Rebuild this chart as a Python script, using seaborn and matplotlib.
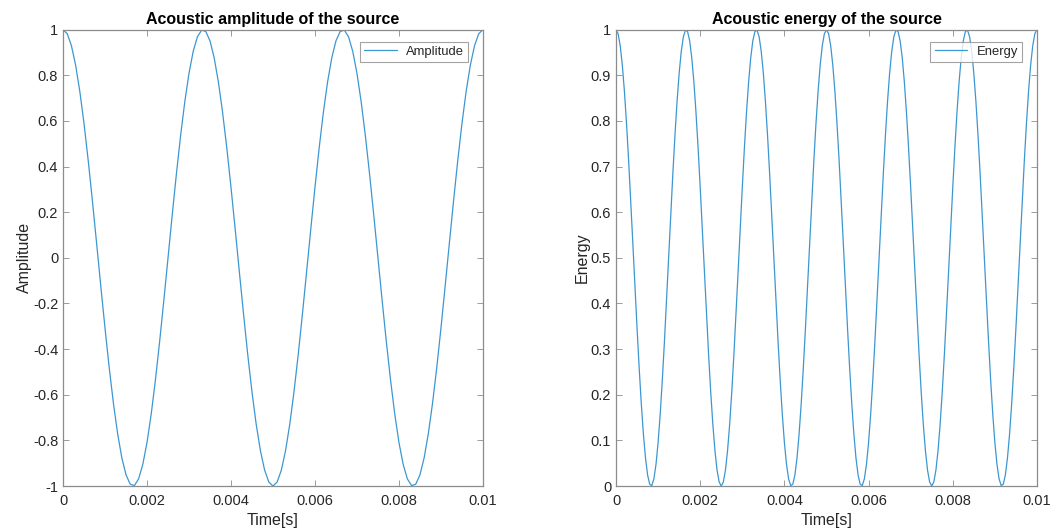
import numpy as np
import pandas as pd
import matplotlib
matplotlib.use("Agg")
import matplotlib.pyplot as plt
import seaborn as sns

# Amplitude: time samples (s), 0 .. 0.01 step 0.0001
time_amp = [round(i * 0.0001, 4) for i in range(101)]

amp_first = [1.0000, 0.9823, 0.9298, 0.8443, 0.7290, 0.5878, 0.4258, 0.2487, 0.0628, -0.1253,
             -0.3090, -0.4818, -0.6374, -0.7705, -0.8763, -0.9511, -0.9921, -0.9980, -0.9686, -0.9048,
             -0.8090, -0.6845, -0.5358, -0.3681, -0.1874, 0.0000, 0.1874, 0.3681, 0.5358, 0.6845,
             0.8090, 0.9048, 0.9686, 0.9980, 0.9921, 0.9511, 0.8763, 0.7705, 0.6374, 0.4818,
             0.3090, 0.1253, -0.0628, -0.2487, -0.4258, -0.5878, -0.7290, -0.8443, -0.9298, -0.9823,
             -1.0000]
amp_second = [-0.9823, -0.9298, -0.8443, -0.7290, -0.5878, -0.4258, -0.2487, -0.0628, 0.1253,
              0.3090, 0.4818, 0.6374, 0.7705, 0.8763, 0.9511, 0.9921, 0.9980, 0.9686, 0.9048,
              0.8090, 0.6845, 0.5358, 0.3681, 0.1874, 0.0000, -0.1874, -0.3681, -0.5358, -0.6845,
              -0.8090, -0.9048, -0.9686, -0.9980, -0.9921, -0.9511, -0.8763, -0.7705, -0.6374, -0.4818,
              -0.3090, -0.1253, 0.0628, 0.2487, 0.4258, 0.5878, 0.7290, 0.8443, 0.9298, 0.9823,
              1.0000]
amplitude = amp_first + amp_second

# Energy: time samples (s), 0 .. 0.01 step 0.00005
time_en = [round(i * 0.00005, 5) for i in range(201)]

en_block = [1.0000, 0.99115, 0.9649, 0.92215, 0.8645, 0.7939, 0.7129, 0.62435, 0.5314, 0.43735,
            0.3455, 0.2591, 0.1813, 0.11475, 0.06185, 0.02445, 0.00395, 0.0010, 0.0157, 0.0476,
            0.0955, 0.15775, 0.2321, 0.31595, 0.4063, 0.5000, 0.5937, 0.68405, 0.7679, 0.84225,
            0.9045, 0.9524, 0.9843, 0.9990, 0.99605, 0.97555, 0.93815, 0.88525, 0.8187, 0.7409,
            0.6545, 0.56265, 0.4686, 0.37565, 0.2871, 0.2061, 0.1355, 0.07785, 0.0351, 0.00885,
            0.0000, 0.00885, 0.0351, 0.07785, 0.1355, 0.2061, 0.2871, 0.37565, 0.4686, 0.56265,
            0.6545, 0.7409, 0.8187, 0.88525, 0.93815, 0.97555, 0.99605, 0.9990, 0.9843, 0.9524,
            0.9045, 0.84225, 0.7679, 0.68405, 0.5937, 0.5000, 0.4063, 0.31595, 0.2321, 0.15775,
            0.0955, 0.0476, 0.0157, 0.0010, 0.00395, 0.02445, 0.06185, 0.11475, 0.1813, 0.2591,
            0.3455, 0.43735, 0.5314, 0.62435, 0.7129, 0.7939, 0.8645, 0.92215, 0.9649, 0.99115]
energy = en_block + en_block + [1.0000]

x_ticks = [0, 0.002, 0.004, 0.006, 0.008, 0.01]
x_ticklabels = ["0", "0.002", "0.004", "0.006", "0.008", "0.01"]
amp_ticks = [-1, -0.8, -0.6, -0.4, -0.2, 0, 0.2, 0.4, 0.6, 0.8, 1]
amp_ticklabels = ["-1", "-0.8", "-0.6", "-0.4", "-0.2", "0", "0.2", "0.4", "0.6", "0.8", "1"]
en_ticks = [0, 0.1, 0.2, 0.3, 0.4, 0.5, 0.6, 0.7, 0.8, 0.9, 1]
en_ticklabels = ["0", "0.1", "0.2", "0.3", "0.4", "0.5", "0.6", "0.7", "0.8", "0.9", "1"]

sns.set_theme(style="white")
plt.rcParams["font.family"] = ["Liberation Sans", "DejaVu Sans"]

LINE = "#3C97D1"
AXC = "#262626"
SPINE = "#8C8C8C"

df_a = pd.DataFrame({"Time": time_amp, "Amplitude": amplitude})
df_e = pd.DataFrame({"Time": time_en, "Energy": energy})

fig = plt.figure(figsize=(10.63, 5.30), dpi=100)
ax1 = fig.add_axes([0.0593, 0.083, 0.395, 0.861])
ax2 = fig.add_axes([0.5795, 0.083, 0.396, 0.861])

def style(ax, yticks, ylabels, ylim, title, ylabel):
    ax.set_xlim(0, 0.01)
    ax.set_ylim(*ylim)
    ax.set_xticks(x_ticks)
    ax.set_xticklabels(x_ticklabels)
    ax.set_yticks(yticks)
    ax.set_yticklabels(ylabels)
    ax.tick_params(direction="in", length=4, width=0.6, color=SPINE, labelcolor=AXC,
                   labelsize=10.5, top=True, right=True, bottom=True, left=True,
                   labeltop=False, labelright=False)
    ax.tick_params(axis="x", pad=6)
    for s in ax.spines.values():
        s.set_color(SPINE)
        s.set_linewidth(0.9)
    ax.set_title(title, fontsize=11.5, fontweight="bold", pad=4, color="black")
    ax.set_xlabel("Time[s]", fontsize=11.5, labelpad=3, color=AXC)
    ax.set_ylabel(ylabel, fontsize=11.5, labelpad=1, color=AXC)
    leg = ax.legend(loc="upper right", fontsize=9.4, frameon=True, fancybox=False,
                    handlelength=2.5, handletextpad=0.7, borderpad=0.33,
                    borderaxespad=0.0, bbox_to_anchor=(0.965, 0.974))
    leg.get_frame().set_edgecolor(SPINE)
    leg.get_frame().set_linewidth(0.8)

sns.lineplot(data=df_a, x="Time", y="Amplitude", ax=ax1, color=LINE, linewidth=0.9, label="Amplitude")
sns.lineplot(data=df_e, x="Time", y="Energy", ax=ax2, color=LINE, linewidth=0.9, label="Energy")

style(ax1, amp_ticks, amp_ticklabels, (-1, 1), "Acoustic amplitude of the source", "Amplitude")
style(ax2, en_ticks, en_ticklabels, (0, 1), "Acoustic energy of the source", "Energy")

fig.savefig("out.png", dpi=100)
